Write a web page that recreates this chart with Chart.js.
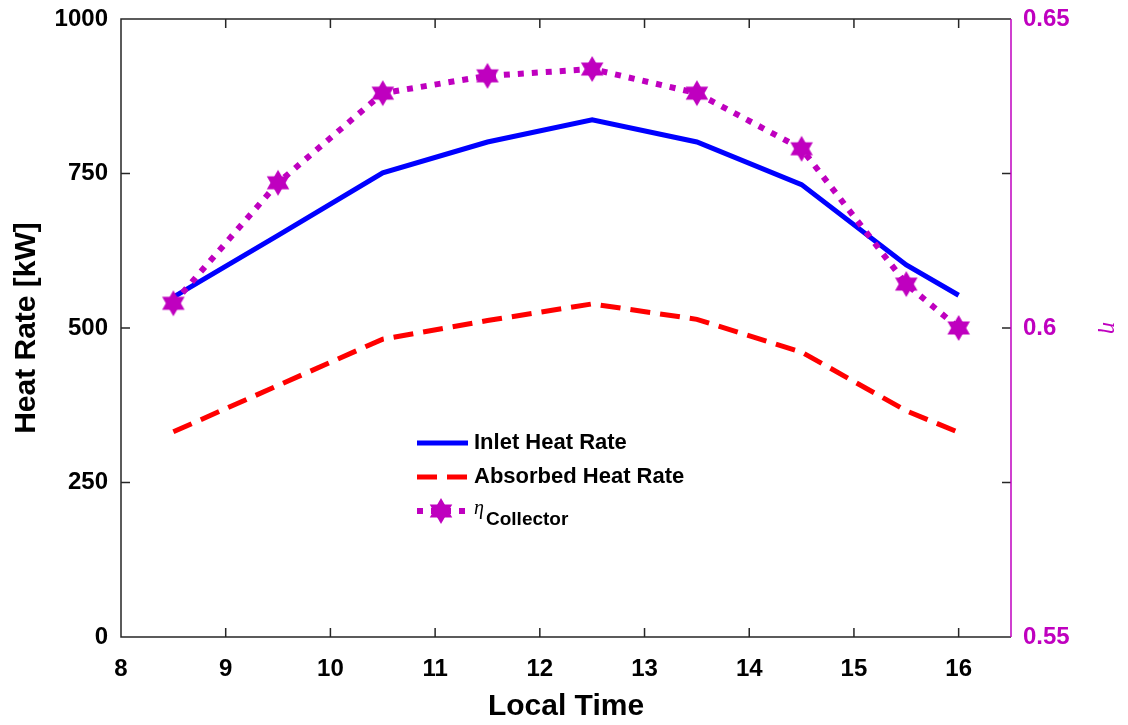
<!DOCTYPE html>
<html>
<head>
<meta charset="utf-8">
<script src="https://cdn.jsdelivr.net/npm/chart.js@4.4.1/dist/chart.umd.min.js"></script>
<style>
  html, body { margin: 0; padding: 0; background: #fff; }
  canvas { display: block; }
</style>
</head>
<body>
<canvas id="heatChart" width="1128" height="725"></canvas>
<script>
// values
const localTime = [8.5, 9.5, 10.5, 11.5, 12.5, 13.5, 14.5, 15.5, 16];
const inletHeat = [550, 650, 751, 801, 837, 801, 732, 602, 553];
const absorbedHeat = [332, 407, 482, 512, 539, 514, 461, 366, 331];
const etaCollector = [0.604, 0.6235, 0.638, 0.6408, 0.6419, 0.638, 0.629, 0.6071, 0.600];

const timeTicks = [8, 9, 10, 11, 12, 13, 14, 15, 16];
const heatTicks = [0, 250, 500, 750, 1000];
const etaTicks = [0.55, 0.6, 0.65];

const MAGENTA = "#bf00bf";
const AXIS = "#262626";
const SANS = "'Liberation Sans', Arial, sans-serif";
const SERIF = "'Liberation Serif', 'Times New Roman', serif";

// six pointed star marker
function hexagram(r, color) {
    const c = document.createElement("canvas");
    const s = Math.ceil(r * 2 + 2);
    c.width = c.height = s;
    const g = c.getContext("2d");
    g.fillStyle = color;
    [-Math.PI / 2, Math.PI / 2].forEach(rot => {
        g.beginPath();
        for (let i = 0; i < 3; i++) {
            const a = rot + i * 2 * Math.PI / 3;
            g.lineTo(s / 2 + r * Math.cos(a), s / 2 + r * Math.sin(a));
        }
        g.closePath();
        g.fill();
    });
    return c;
}
const star = hexagram(13, MAGENTA);

const pts = ys => localTime.map((x, i) => ({ x: x, y: ys[i] }));

// keep label overflow from pushing the plot box down
const fixY = w => s => { s.width = w; s.paddingTop = 0; s.paddingBottom = 0; };

// box, inward ticks and the in-plot legend
const framePlugin = {
    id: "frame",
    afterDraw(chart) {
        const { ctx, chartArea: a, scales } = chart;
        const len = 9;
        ctx.save();
        ctx.lineWidth = 1.5;
        ctx.strokeStyle = AXIS;
        ctx.beginPath();
        ctx.moveTo(a.right, a.top); ctx.lineTo(a.left, a.top);
        ctx.lineTo(a.left, a.bottom); ctx.lineTo(a.right, a.bottom);
        scales.x.ticks.forEach(t => {
            const px = scales.x.getPixelForValue(t.value);
            ctx.moveTo(px, a.bottom); ctx.lineTo(px, a.bottom - len);
            ctx.moveTo(px, a.top); ctx.lineTo(px, a.top + len);
        });
        scales.y.ticks.forEach(t => {
            const py = scales.y.getPixelForValue(t.value);
            ctx.moveTo(a.left, py); ctx.lineTo(a.left + len, py);
            ctx.moveTo(a.right, py); ctx.lineTo(a.right - len, py);
        });
        ctx.stroke();
        ctx.strokeStyle = MAGENTA;
        ctx.beginPath();
        ctx.moveTo(a.right, a.top); ctx.lineTo(a.right, a.bottom);
        ctx.stroke();

        // legend
        const ds = chart.data.datasets;
        const lx = a.left + 296, ly = a.top + 424, gap = 34;
        ctx.lineWidth = 5;
        ctx.strokeStyle = ds[0].borderColor;
        ctx.beginPath(); ctx.moveTo(lx, ly); ctx.lineTo(lx + 51, ly); ctx.stroke();
        ctx.strokeStyle = ds[1].borderColor;
        ctx.setLineDash(ds[1].borderDash);
        ctx.beginPath(); ctx.moveTo(lx, ly + gap); ctx.lineTo(lx + 51, ly + gap); ctx.stroke();
        ctx.strokeStyle = ds[2].borderColor;
        ctx.lineWidth = 6;
        ctx.setLineDash(ds[2].borderDash);
        ctx.beginPath(); ctx.moveTo(lx, ly + 2 * gap); ctx.lineTo(lx + 51, ly + 2 * gap); ctx.stroke();
        ctx.setLineDash([]);
        ctx.drawImage(star, lx + 24 - star.width / 2, ly + 2 * gap - star.height / 2);

        ctx.fillStyle = "#000";
        ctx.textBaseline = "middle";
        ctx.font = "bold 22px " + SANS;
        ctx.fillText(ds[0].label, lx + 57, ly);
        ctx.fillText(ds[1].label, lx + 57, ly + gap);
        ctx.font = "italic 20px " + SERIF;
        ctx.fillText("\u03B7", lx + 57, ly + 2 * gap - 2);
        ctx.font = "bold 19px " + SANS;
        ctx.fillText("Collector", lx + 69, ly + 2 * gap + 9);
        ctx.restore();
    }
};

new Chart(document.getElementById("heatChart"), {
    type: "line",
    data: {
        datasets: [
            {
                label: "Inlet Heat Rate",
                data: pts(inletHeat),
                yAxisID: "y",
                borderColor: "#0000ff",
                borderWidth: 5,
                pointRadius: 0,
                order: 2
            },
            {
                label: "Absorbed Heat Rate",
                data: pts(absorbedHeat),
                yAxisID: "y",
                borderColor: "#ff0000",
                borderWidth: 5,
                borderDash: [20, 10],
                borderCapStyle: "butt",
                pointRadius: 0,
                order: 3
            },
            {
                label: "\u03B7Collector",
                data: pts(etaCollector),
                yAxisID: "y1",
                borderColor: MAGENTA,
                borderWidth: 6,
                borderDash: [6, 8],
                borderCapStyle: "butt",
                pointStyle: star,
                pointRadius: 13,
                order: 1
            }
        ]
    },
    options: {
        responsive: false,
        animation: false,
        layout: { padding: { top: 17, left: 0, right: 0, bottom: 0 } },
        plugins: { legend: { display: false }, tooltip: { enabled: false } },
        scales: {
            x: {
                type: "linear",
                min: 8,
                max: 16.5,
                afterBuildTicks: s => { s.ticks = timeTicks.map(v => ({ value: v })); },
                afterFit: s => { s.height = 88; s.paddingLeft = 0; s.paddingRight = 0; },
                grid: { display: false, drawTicks: false },
                border: { display: false },
                ticks: { color: "#000", padding: 18, font: { family: SANS, size: 24, weight: "bold" } },
                title: {
                    display: true, text: "Local Time", color: "#000",
                    padding: { top: 0, bottom: 0 },
                    font: { family: SANS, size: 30, weight: "bold" }
                }
            },
            y: {
                position: "left",
                min: 0,
                max: 1000,
                afterBuildTicks: s => { s.ticks = heatTicks.map(v => ({ value: v })); },
                afterFit: fixY(121),
                grid: { display: false, drawTicks: false },
                border: { display: false },
                ticks: {
                    color: "#000", padding: 13,
                    font: { family: SANS, size: 24, weight: "bold" },
                    callback: v => String(v)
                },
                title: {
                    display: true, text: "Heat Rate [kW]", color: "#000",
                    padding: { top: 9, bottom: 0 },
                    font: { family: SANS, size: 30, weight: "bold" }
                }
            },
            y1: {
                position: "right",
                min: 0.55,
                max: 0.65,
                afterBuildTicks: s => { s.ticks = etaTicks.map(v => ({ value: v })); },
                afterFit: fixY(117),
                grid: { display: false, drawTicks: false },
                border: { display: false },
                ticks: {
                    color: MAGENTA, padding: 12,
                    font: { family: SANS, size: 24, weight: "bold" },
                    callback: v => String(+v.toFixed(2))
                },
                title: {
                    display: true, text: "\u03B7", color: MAGENTA,
                    padding: { top: 4, bottom: 0 },
                    font: { family: SERIF, size: 24, style: "italic" }
                }
            }
        }
    },
    plugins: [framePlugin]
});
</script>
</body>
</html>
